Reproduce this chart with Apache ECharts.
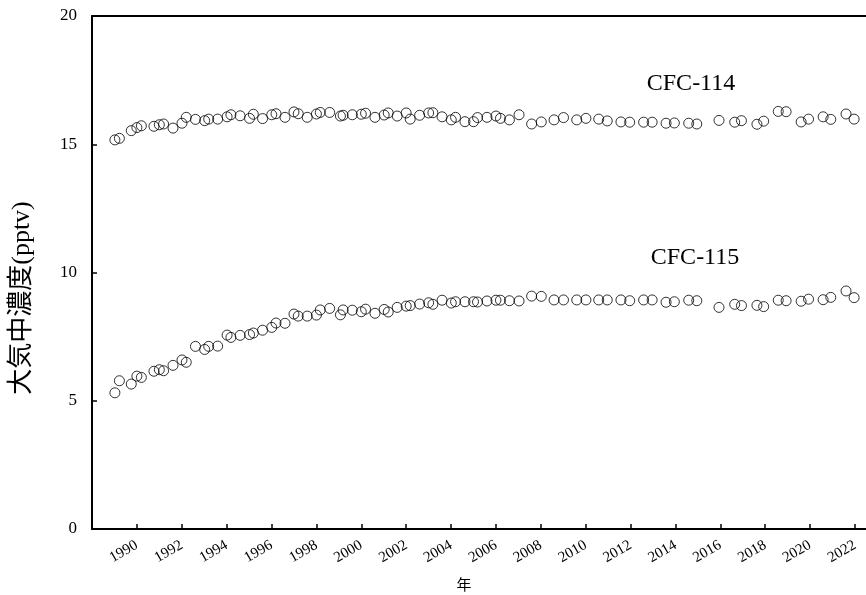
<!DOCTYPE html>
<html>
<head>
<meta charset="utf-8">
<script src="https://cdn.jsdelivr.net/npm/echarts@6/dist/echarts.min.js"></script>
<style>
html,body{margin:0;padding:0;background:#fff;}
#chart{width:866px;height:595px;}
</style>
</head>
<body>
<div id="chart"></div>
<script>
// Sampling times (decimal years), shared by both series
const years = [
  1989.02, 1989.22, 1989.75, 1990.00, 1990.20, 1990.76, 1991.00, 1991.19, 1991.61,
  1992.01, 1992.20, 1992.61, 1993.02, 1993.20, 1993.60, 1994.02, 1994.19, 1994.60,
  1995.02, 1995.19, 1995.60, 1996.01, 1996.20, 1996.60, 1997.00, 1997.19, 1997.59,
  1998.00, 1998.17, 1998.59, 1999.07, 1999.19, 1999.60, 2000.00, 2000.19, 2000.61,
  2001.02, 2001.20, 2001.60, 2002.00, 2002.18, 2002.60, 2003.00, 2003.19, 2003.60,
  2004.01, 2004.20, 2004.62, 2005.00, 2005.18, 2005.60, 2006.00, 2006.20, 2006.60,
  2007.03, 2007.59, 2008.02, 2008.59, 2009.01, 2009.60, 2010.01, 2010.58, 2010.96,
  2011.57, 2011.96, 2012.58, 2012.96, 2013.58, 2013.95, 2014.59, 2014.95, 2015.94,
  2016.64, 2016.94, 2017.63, 2017.93, 2018.58, 2018.93, 2019.60, 2019.93, 2020.58,
  2020.92, 2021.60, 2021.96
];

// CFC-114 concentrations (pptv)
const cfc114 = [
  15.17, 15.23, 15.53, 15.65, 15.72, 15.70, 15.76, 15.79, 15.63, 15.82,
  16.05, 15.97, 15.92, 15.98, 15.98, 16.07, 16.15, 16.11, 16.01, 16.17,
  16.00, 16.15, 16.19, 16.05, 16.26, 16.19, 16.05, 16.18, 16.24, 16.24,
  16.10, 16.13, 16.15, 16.17, 16.21, 16.05, 16.14, 16.22, 16.10, 16.22,
  15.98, 16.13, 16.22, 16.23, 16.07, 15.95, 16.05, 15.88, 15.88, 16.04,
  16.05, 16.10, 16.01, 15.95, 16.15, 15.79, 15.87, 15.95, 16.04, 15.95,
  16.01, 15.98, 15.91, 15.87, 15.86, 15.86, 15.86, 15.82, 15.83, 15.82,
  15.79, 15.93, 15.86, 15.92, 15.78, 15.90, 16.28, 16.27, 15.87, 15.98,
  16.07, 15.97, 16.18, 15.98
];

// CFC-115 concentrations (pptv)
const cfc115 = [
  5.31, 5.78, 5.65, 5.96, 5.91, 6.15, 6.21, 6.17, 6.38, 6.59,
  6.50, 7.12, 7.00, 7.12, 7.13, 7.56, 7.47, 7.55, 7.58, 7.64,
  7.75, 7.86, 8.03, 8.02, 8.38, 8.30, 8.30, 8.34, 8.54, 8.60,
  8.35, 8.54, 8.53, 8.47, 8.57, 8.41, 8.56, 8.46, 8.64, 8.69,
  8.71, 8.77, 8.82, 8.76, 8.92, 8.81, 8.86, 8.86, 8.86, 8.85,
  8.89, 8.92, 8.92, 8.90, 8.89, 9.08, 9.07, 8.93, 8.93, 8.93,
  8.93, 8.93, 8.93, 8.93, 8.90, 8.93, 8.93, 8.84, 8.86, 8.92,
  8.90, 8.64, 8.76, 8.71, 8.72, 8.67, 8.92, 8.90, 8.88, 8.96,
  8.94, 9.03, 9.28, 9.02
];

const seriesNames = ['CFC-114', 'CFC-115'];
const yTicks = [0, 5, 10, 15, 20];
const yAxisName = '大気中濃度(pptv)';
const xAxisName = '年';

const serif = '"Liberation Serif", "Times New Roman", serif';
const cjk = '"Liberation Serif", "Noto Sans CJK JP", sans-serif';

const chart = echarts.init(document.getElementById('chart'), null, {renderer: 'canvas'});

const markerStyle = {
  color: 'rgba(0,0,0,0)',
  borderColor: '#000',
  borderWidth: 1
};

const option = {
  animation: false,
  backgroundColor: '#fff',
  grid: {left: 92, top: 16, right: 0, bottom: 66, containLabel: false},
  xAxis: [{
    type: 'value',
    min: 1988,
    max: 2022.49,
    interval: 2,
    position: 'bottom',
    axisLine: {show: true, onZero: false, lineStyle: {color: '#000', width: 2}},
    axisTick: {show: true, inside: true, length: 5, lineStyle: {color: '#000', width: 1.5}},
    axisLabel: {
      rotate: 30,
      margin: 15,
      color: '#000',
      fontFamily: serif,
      fontSize: 15,
      showMaxLabel: false,
      formatter: function (v) {
        return (Math.abs(v - Math.round(v)) < 1e-6 && Math.round(v) % 2 === 0 && v > 1988) ? String(Math.round(v)) : '';
      }
    },
    splitLine: {show: false}
  }, {
    type: 'value',
    min: 1988,
    max: 2022.49,
    interval: 2,
    position: 'top',
    axisLine: {show: true, onZero: false, lineStyle: {color: '#000', width: 2}},
    axisTick: {show: false},
    axisLabel: {show: false},
    splitLine: {show: false}
  }],
  yAxis: {
    type: 'value',
    min: yTicks[0],
    max: yTicks[yTicks.length - 1],
    interval: 5,
    axisLine: {show: true, onZero: false, lineStyle: {color: '#000', width: 2}},
    axisTick: {show: true, inside: true, length: 5, lineStyle: {color: '#000', width: 1.5}},
    axisLabel: {color: '#000', fontFamily: serif, fontSize: 17, margin: 15},
    splitLine: {show: false}
  },
  graphic: [
    {type: 'text', x: 22, y: 298, rotation: Math.PI / 2,
     style: {text: yAxisName, font: '26px ' + cjk, fill: '#000', textAlign: 'center', textVerticalAlign: 'middle'}},
    {type: 'text', x: 691, y: 84,
     style: {text: seriesNames[0], font: '24px ' + serif, fill: '#000', textAlign: 'center', textVerticalAlign: 'middle'}},
    {type: 'text', x: 695, y: 258,
     style: {text: seriesNames[1], font: '24px ' + serif, fill: '#000', textAlign: 'center', textVerticalAlign: 'middle'}},
    {type: 'text', x: 464, y: 584,
     style: {text: xAxisName, font: '15px "Noto Sans CJK JP", sans-serif', fill: '#000', textAlign: 'center', textVerticalAlign: 'middle'}}
  ],
  series: [
    {
      name: seriesNames[0],
      type: 'scatter',
      xAxisIndex: 0,
      symbol: 'circle',
      symbolSize: 10,
      itemStyle: markerStyle,
      data: years.map((y, i) => [y, cfc114[i]])
    },
    {
      name: seriesNames[1],
      type: 'scatter',
      xAxisIndex: 0,
      symbol: 'circle',
      symbolSize: 10,
      itemStyle: markerStyle,
      data: years.map((y, i) => [y, cfc115[i]])
    }
  ]
};

chart.setOption(option);
</script>
</body>
</html>
